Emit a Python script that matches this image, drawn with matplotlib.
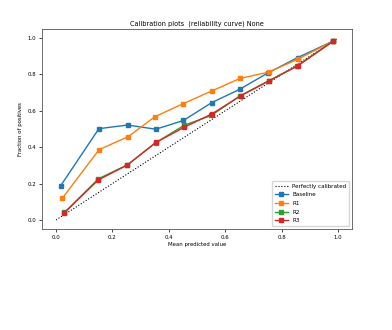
import numpy as np
import matplotlib.pyplot as plt

base_x = [0.016, 0.152, 0.254, 0.354, 0.452, 0.552, 0.651, 0.752, 0.857, 0.983]
base_y = [0.187, 0.502, 0.522, 0.499, 0.547, 0.645, 0.718, 0.809, 0.893, 0.984]

r1_x = [0.022, 0.153, 0.256, 0.351, 0.449, 0.552, 0.652, 0.754, 0.859, 0.983]
r1_y = [0.119, 0.387, 0.458, 0.568, 0.638, 0.709, 0.778, 0.813, 0.885, 0.984]

r2_x = [0.030, 0.150, 0.253, 0.353, 0.454, 0.551, 0.654, 0.755, 0.856, 0.983]
r2_y = [0.041, 0.226, 0.303, 0.424, 0.520, 0.575, 0.683, 0.766, 0.848, 0.983]

r3_x = [0.030, 0.150, 0.253, 0.354, 0.455, 0.553, 0.655, 0.756, 0.857, 0.983]
r3_y = [0.040, 0.220, 0.302, 0.426, 0.510, 0.583, 0.683, 0.765, 0.847, 0.983]

plt.rcParams['font.size'] = 3.9
fig = plt.figure(figsize=(3.92, 3.3), dpi=100)
ax = fig.add_axes([0.107, 0.306, 0.791, 0.606])

ax.plot([0, 1], [0, 1], 'k:', lw=0.8, label='Perfectly calibrated')
ax.plot(base_x, base_y, 's-', ms=3, lw=1, label='Baseline')
ax.plot(r1_x, r1_y, 's-', ms=3, lw=1, label='R1')
ax.plot(r2_x, r2_y, 's-', ms=3, lw=1, label='R2')
ax.plot(r3_x, r3_y, 's-', ms=3, lw=1, label='R3')

ax.set_xlim(-0.05, 1.05)
ax.set_ylim(-0.05, 1.05)
ax.set_xticks([0, 0.2, 0.4, 0.6, 0.8, 1.0])
ax.set_xlabel('Mean predicted value', labelpad=1.5)
ax.set_ylabel('Fraction of positives', labelpad=3)
ax.set_title('Calibration plots  (reliability curve) None', fontsize=4.7, pad=2.5)
ax.tick_params(length=2, width=0.5, pad=2)
for s in ax.spines.values():
    s.set_linewidth(0.6)
    s.set_color('#555555')
ax.legend(loc='lower right', fontsize=4.05, handlelength=2.3, borderpad=0.5,
          labelspacing=0.65, borderaxespad=0.5)

fig.savefig('out.png', dpi=100)
